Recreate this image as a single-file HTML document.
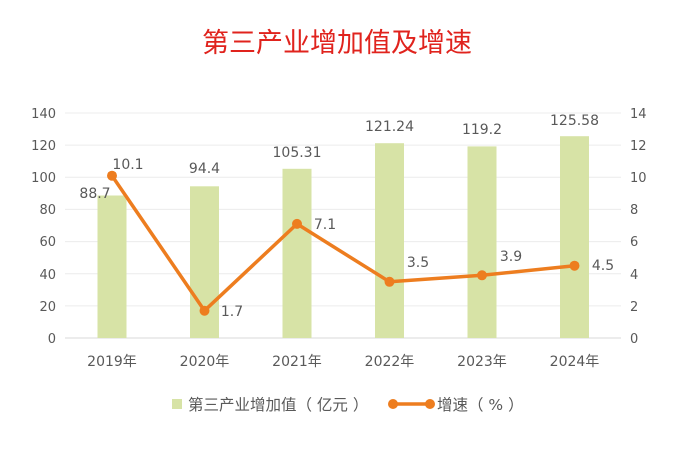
<!DOCTYPE html>
<html><head><meta charset="utf-8"><style>
body{margin:0;background:#fff;}
svg text{font-family:"DejaVu Sans","Noto Sans CJK SC",sans-serif;}
</style></head><body>
<svg width="674" height="450" viewBox="0 0 674 450" xmlns="http://www.w3.org/2000/svg">
<rect width="674" height="450" fill="#fff"/>
<text x="337" y="52" text-anchor="middle" font-size="27" fill="#e0231d" style="font-family:'Noto Sans CJK SC',sans-serif">第三产业增加值及增速</text>
<g stroke="#ececec" stroke-width="1">
<line x1="65" x2="621" y1="113" y2="113"/><line x1="65" x2="621" y1="145.1" y2="145.1"/>
<line x1="65" x2="621" y1="177.3" y2="177.3"/><line x1="65" x2="621" y1="209.4" y2="209.4"/>
<line x1="65" x2="621" y1="241.6" y2="241.6"/><line x1="65" x2="621" y1="273.7" y2="273.7"/>
<line x1="65" x2="621" y1="305.9" y2="305.9"/>
</g>
<line x1="65" x2="621" y1="338" y2="338" stroke="#d9d9d9"/>
<g font-size="13" fill="#595959" text-anchor="end">
<text x="56" y="118">140</text><text x="56" y="150">120</text><text x="56" y="182">100</text>
<text x="56" y="214">80</text><text x="56" y="246">60</text><text x="56" y="279">40</text>
<text x="56" y="311">20</text><text x="56" y="343">0</text>
</g>
<g font-size="13" fill="#595959" text-anchor="start">
<text x="630" y="118">14</text><text x="630" y="150">12</text><text x="630" y="182">10</text>
<text x="630" y="214">8</text><text x="630" y="246">6</text><text x="630" y="279">4</text>
<text x="630" y="311">2</text><text x="630" y="343">0</text>
</g>
<g fill="#d7e3a6">
<rect x="97.5" y="195.5" width="29" height="142.5"/>
<rect x="190" y="186.3" width="29" height="151.7"/>
<rect x="282.5" y="168.8" width="29" height="169.2"/>
<rect x="375" y="143.2" width="29" height="194.8"/>
<rect x="467.5" y="146.4" width="29" height="191.6"/>
<rect x="560" y="136.2" width="29" height="201.8"/>
</g>
<polyline points="112,175.7 204.5,310.7 297,223.9 389.5,281.8 482,275.3 574.5,265.7" fill="none" stroke="#ed7d1f" stroke-width="3.5" stroke-linejoin="round"/>
<g fill="#ed7d1f">
<circle cx="112" cy="175.7" r="5"/><circle cx="204.5" cy="310.7" r="5"/><circle cx="297" cy="223.9" r="5"/>
<circle cx="389.5" cy="281.8" r="5"/><circle cx="482" cy="275.3" r="5"/><circle cx="574.5" cy="265.7" r="5"/>
</g>
<g font-size="14" fill="#595959" text-anchor="middle">
<text x="95" y="198">88.7</text><text x="204.5" y="173">94.4</text><text x="297" y="157">105.31</text>
<text x="389.5" y="131">121.24</text><text x="482" y="134">119.2</text><text x="574.5" y="125">125.58</text>
<text x="128" y="169">10.1</text><text x="232" y="316">1.7</text><text x="325" y="229">7.1</text>
<text x="418" y="267">3.5</text><text x="511" y="261">3.9</text><text x="603" y="270">4.5</text>
</g>
<g font-size="14" fill="#595959" text-anchor="middle">
<text x="112" y="366">2019年</text><text x="204.5" y="366">2020年</text><text x="297" y="366">2021年</text>
<text x="389.5" y="366">2022年</text><text x="482" y="366">2023年</text><text x="574.5" y="366">2024年</text>
</g>
<rect x="172" y="399" width="10" height="10" fill="#d7e3a6"/>
<text x="188" y="410" font-size="15.5" fill="#595959">第三产业增加值（ 亿元 ）</text>
<line x1="393" x2="430" y1="404" y2="404" stroke="#ed7d1f" stroke-width="3.5"/>
<circle cx="393" cy="404" r="5" fill="#ed7d1f"/><circle cx="430" cy="404" r="5" fill="#ed7d1f"/>
<text x="437" y="410" font-size="15.5" fill="#595959">增速（ % ）</text>
</svg>
</body></html>
